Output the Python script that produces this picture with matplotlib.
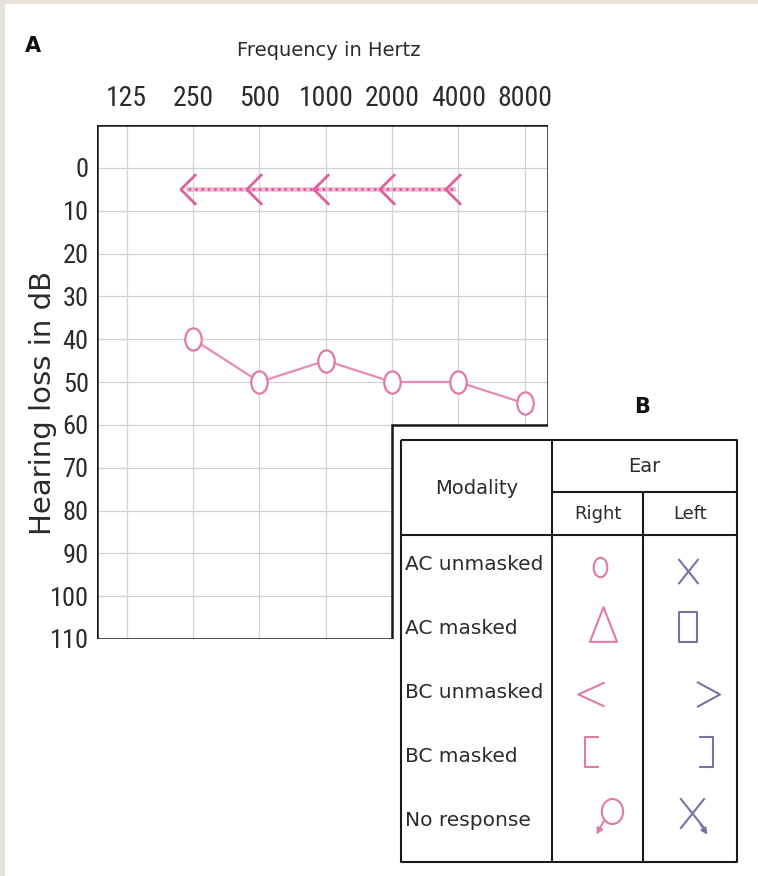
import matplotlib
matplotlib.use("Agg")
import matplotlib.pyplot as plt
import matplotlib.transforms as mtransforms
import numpy as np
from matplotlib.path import Path
from matplotlib.patches import Polygon, Rectangle

# Step 1: chart values
freq_labels = ['125', '250', '500', '1000', '2000', '4000', '8000']
db_ticks = [0, 10, 20, 30, 40, 50, 60, 70, 80, 90, 100, 110]

# right ear, air conduction unmasked (circles)
ac_freqs = ['250', '500', '1000', '2000', '4000', '8000']
ac_db = [40, 50, 45, 50, 50, 55]

# right ear, bone conduction unmasked (<)
bc_freqs = ['250', '500', '1000', '2000', '4000']
bc_db = [5, 5, 5, 5, 5]

# legend table B
modalities = ['AC unmasked', 'AC masked', 'BC unmasked', 'BC masked', 'No response']
ears = ['Right', 'Left']

PINK = '#e07aa8'
BLUE = '#7474a6'
INK = '#2b2b2b'
GRID = '#cdd1dc'
TICKFONT = ['Roboto Condensed', 'Liberation Sans Narrow', 'Liberation Sans']


# marker shapes
def shape(segments, closed=False):
    verts, codes = [], []
    for seg in segments:
        for k, p in enumerate(seg):
            verts.append(p)
            codes.append(Path.MOVETO if k == 0 else Path.LINETO)
        if closed:
            verts.append(seg[0])
            codes.append(Path.CLOSEPOLY)
    return Path(verts, codes)


def ellipse(aspect):
    c = Path.unit_circle()
    return Path(c.vertices * [aspect, 1.0], c.codes)


def chevron(w, h, left=True):
    s = 1 if left else -1
    return shape([[(s * w, h), (-s * w, 0), (s * w, -h)]])


def bracket(w, h, left=True):
    s = 1 if left else -1
    return shape([[(s * w, h), (-s * w, h), (-s * w, -h), (s * w, -h)]])


cross = shape([[(-0.8, 1), (0.8, -1)], [(-0.8, -1), (0.8, 1)]])
triangle = shape([[(0, 1), (-0.78, -1), (0.78, -1)]], closed=True)
box = shape([[(-0.62, 1), (0.62, 1), (0.62, -1), (-0.62, -1)]], closed=True)

# Step 2: figure (1 unit = 1 pixel at dpi 100)
W, H = 758, 876
fig = plt.figure(figsize=(W / 100, H / 100), dpi=100)
fig.patch.set_facecolor('white')

# audiogram frame in pixels
fl, fr, ft, fb = 97, 548, 125, 639
ax = fig.add_axes([fl / W, 1 - fb / H, (fr - fl) / W, (fb - ft) / H])
x0, x1 = -0.45, 6.35
y_top, y_bot = -10, 110
cut_x, cut_y = 4, 60   # table B covers the lower right corner
ax.set_xlim(x0, x1)
ax.set_ylim(y_bot, y_top)
for s in ax.spines.values():
    s.set_visible(False)
ax.patch.set_alpha(0)

frame = Polygon([(x0, y_top), (x1, y_top), (x1, cut_y), (cut_x, cut_y),
                 (cut_x, y_bot), (x0, y_bot)], closed=True, fill=False,
                ec='#1a1a1a', lw=1.8, zorder=5)
ax.add_patch(frame)

xs = np.arange(len(freq_labels))
vl = ax.vlines(xs, y_top, y_bot, colors='#d3d3d6', lw=0.9, zorder=1)
vl.set_clip_path(frame)
hl = ax.hlines(db_ticks[:-1], x0, x1, colors=GRID, lw=0.9, zorder=1)
hl.set_clip_path(frame)

ax.set_xticks(xs)
ax.set_xticklabels(freq_labels, family=TICKFONT, fontsize=20, color=INK)
ax.xaxis.tick_top()
ax.set_yticks(db_ticks)
ax.set_yticklabels([str(v) for v in db_ticks], family=TICKFONT, fontsize=19, color=INK)
ax.tick_params(axis='x', length=0, pad=9)
ax.tick_params(axis='y', length=0, pad=6)

# air conduction circles
ac_x = [freq_labels.index(f) for f in ac_freqs]
ax.plot(ac_x, ac_db, color='#e58cb4', lw=1.6, zorder=3,
        marker=ellipse(0.74), ms=16, mfc='white', mec=PINK, mew=1.6)

# bone conduction arrows, drawn a little left of the frequency line
bc_x = [freq_labels.index(f) for f in bc_freqs]
shift = mtransforms.offset_copy(ax.transData, fig=fig, x=-5, y=0, units='dots')
ax.plot(bc_x, bc_db, color='#f2bdd6', lw=3.4, transform=shift, zorder=3)
ax.plot(bc_x, bc_db, color='#e0609e', lw=2, ls=(0, (1, 1.3)), transform=shift, zorder=3)
ax.plot(bc_x, bc_db, ls='none', transform=shift, zorder=4,
        marker=chevron(0.5, 1.0), ms=22, mfc='none', mec='#e0609e', mew=2)

# Step 3: overlay in pixel coordinates for labels and table
ov = fig.add_axes([0, 0, 1, 1])
ov.set_xlim(0, W)
ov.set_ylim(H, 0)
ov.axis('off')

ov.add_patch(Rectangle((0, 0), W, 4, color='#e7e3dc', lw=0))
ov.add_patch(Rectangle((0, 0), 5, H, color='#e7e3dc', lw=0))

ov.text(33, 46, 'A', fontsize=15, fontweight='bold', color='#111111', ha='center', va='center')
ov.text(329, 50, 'Frequency in Hertz', fontsize=14, color=INK, ha='center', va='center')
ov.text(43, 403, 'Hearing loss in dB', fontsize=21, color=INK, rotation=90,
        ha='center', va='center')
ov.text(642, 407, 'B', fontsize=15, fontweight='bold', color='#111111', ha='center', va='center')

# table B grid
tl, tr, tt, tb = 401, 737, 440, 862
c1, c2 = 552, 643
ear_y, head_y = 492, 535
lk = dict(color='#1a1a1a', lw=1.5, solid_capstyle='butt')
ov.plot([tl, tr, tr, tl, tl], [tt, tt, tb, tb, tt], **lk)
ov.plot([c1, tr], [ear_y, ear_y], **lk)
ov.plot([tl, tr], [head_y, head_y], **lk)
ov.plot([c1, c1], [tt, tb], **lk)
ov.plot([c2, c2], [ear_y, tb], **lk)

ov.text((tl + c1) / 2, 488, 'Modality', fontsize=14, color=INK, ha='center', va='center')
ov.text((c1 + tr) / 2, 466, 'Ear', fontsize=14, color=INK, ha='center', va='center')
ov.text((c1 + c2) / 2, 514, ears[0], fontsize=13, color=INK, ha='center', va='center')
ov.text((c2 + tr) / 2, 514, ears[1], fontsize=13, color=INK, ha='center', va='center')

row_y0, row_h = 564, 64
for i, name in enumerate(modalities):
    ov.text(405, row_y0 + i * row_h, name, fontsize=14.5, color=INK, ha='left', va='center')

sym = dict(ls='none', mfc='none', mew=1.5, clip_on=False)
ry = [row_y0 + i * row_h for i in range(len(modalities))]
# right ear symbols
ov.plot(600, ry[0] + 3, marker=ellipse(0.7), ms=14, mec=PINK, **sym)
ov.plot(603, ry[1] - 4, marker=triangle, ms=25, mec=PINK, **sym)
ov.plot(591, ry[2] + 2, marker=chevron(0.55, 0.5), ms=19, mec=PINK, **sym)
ov.plot(592, ry[3] - 4, marker=bracket(0.45, 1.0), ms=21, mec=PINK, **sym)
ov.plot(612, ry[4] - 9, marker=ellipse(0.85), ms=18, mec=PINK, **sym)
ov.annotate('', xy=(595, ry[4] + 17), xytext=(605, ry[4] - 1),
            arrowprops=dict(arrowstyle='-|>', color=PINK, lw=1.4, mutation_scale=9))
# left ear symbols
ov.plot(688, ry[0] + 7, marker=cross, ms=18, mec=BLUE, **sym)
ov.plot(688, ry[1] - 1, marker=box, ms=21, mec=BLUE, **sym)
ov.plot(708, ry[2] + 2, marker=chevron(0.46, 0.5, left=False), ms=18, mec=BLUE, **sym)
ov.plot(706, ry[3] - 4, marker=bracket(0.45, 1.0, left=False), ms=21, mec=BLUE, **sym)
ov.plot(692, ry[4] - 7, marker=cross, ms=22, mec=BLUE, **sym)
ov.annotate('', xy=(709, ry[4] + 17), xytext=(699, ry[4] + 2),
            arrowprops=dict(arrowstyle='-|>', color=BLUE, lw=1.4, mutation_scale=9))

# Step 4: save
fig.savefig('out.png', dpi=100)
